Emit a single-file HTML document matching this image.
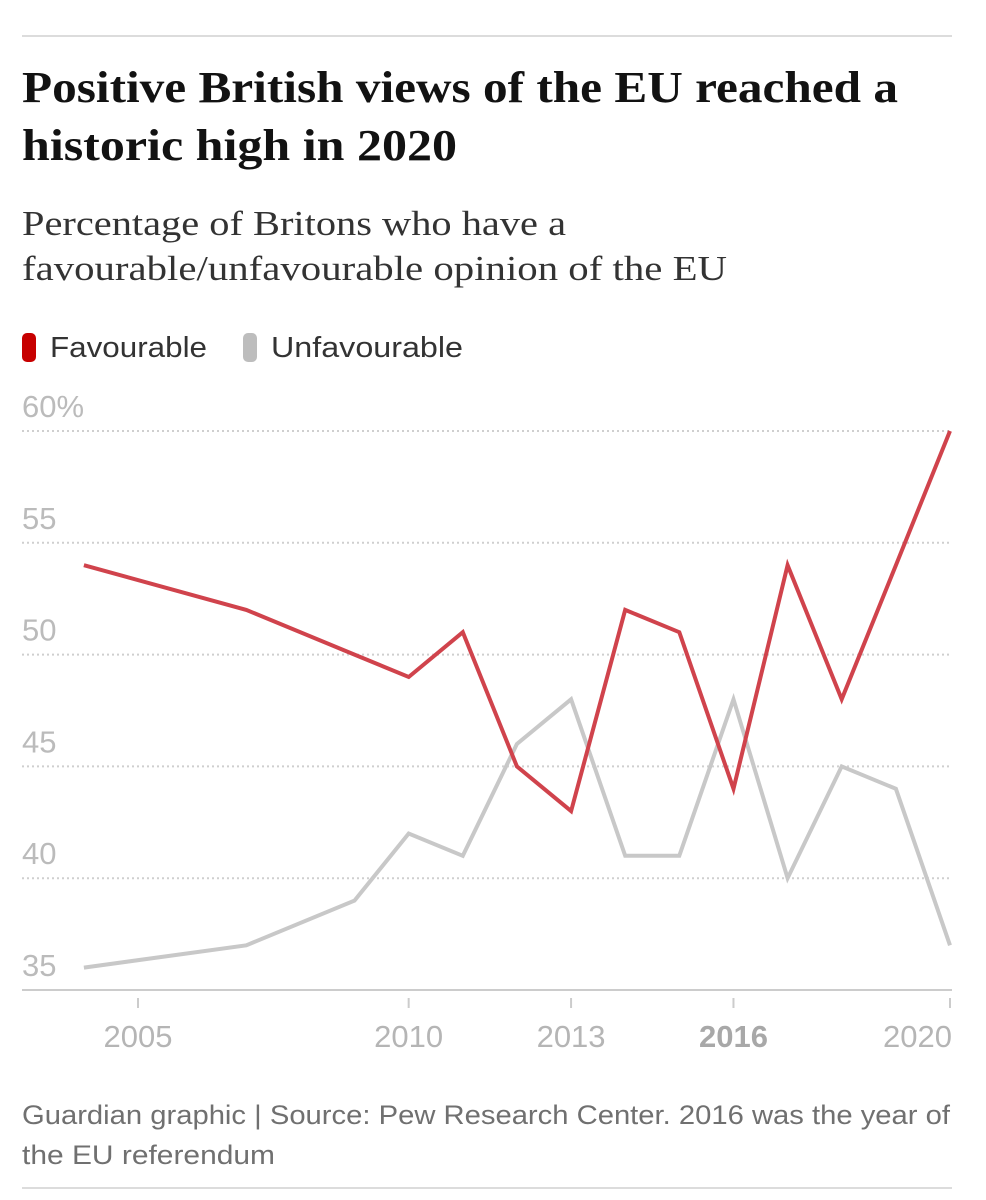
<!DOCTYPE html>
<html><head><meta charset="utf-8">
<style>
html,body{margin:0;padding:0;background:#fff;width:986px;height:1200px;overflow:hidden}
svg{display:block}
</style></head>
<body>
<svg width="986" height="1200" viewBox="0 0 986 1200">
<line x1="22" y1="36" x2="952" y2="36" stroke="#dcdcdc" stroke-width="2"/>
<text font-family="Liberation Serif, serif" font-weight="bold" font-size="44" fill="#121212"><tspan x="22" y="102" textLength="876" lengthAdjust="spacingAndGlyphs">Positive British views of the EU reached a</tspan><tspan x="22" y="160" textLength="435" lengthAdjust="spacingAndGlyphs">historic high in 2020</tspan></text>
<text font-family="Liberation Serif, serif" font-size="35" fill="#333"><tspan x="22" y="235" textLength="544" lengthAdjust="spacingAndGlyphs">Percentage of Britons who have a</tspan><tspan x="22" y="280" textLength="705" lengthAdjust="spacingAndGlyphs">favourable/unfavourable opinion of the EU</tspan></text>
<g>
<rect x="22" y="333" width="14" height="29" rx="5" fill="#c70000"/>
<text x="50" y="357" font-family="Liberation Sans, sans-serif" font-size="29" fill="#333" textLength="157" lengthAdjust="spacingAndGlyphs">Favourable</text>
<rect x="243" y="333" width="14" height="29" rx="5" fill="#bdbdbd"/>
<text x="271" y="357" font-family="Liberation Sans, sans-serif" font-size="29" fill="#333" textLength="192" lengthAdjust="spacingAndGlyphs">Unfavourable</text>
</g>
<g id="plot"></g>
<text font-family="Liberation Sans, sans-serif" font-size="27" fill="#707070"><tspan x="22" y="1124" textLength="928" lengthAdjust="spacingAndGlyphs">Guardian graphic | Source: Pew Research Center. 2016 was the year of</tspan><tspan x="22" y="1164" textLength="253" lengthAdjust="spacingAndGlyphs">the EU referendum</tspan></text>
<line x1="22" y1="1188" x2="952" y2="1188" stroke="#dcdcdc" stroke-width="2"/>
</svg>
<script>
const yearsFav = [2004, 2007, 2009, 2010, 2011, 2012, 2013, 2014, 2015, 2016, 2017, 2018, 2019, 2020];
const valuesFav = [54, 52, 50, 49, 51, 45, 43, 52, 51, 44, 54, 48, 54, 60];
const yearsUnfav = [2004, 2007, 2009, 2010, 2011, 2012, 2013, 2014, 2015, 2016, 2017, 2018, 2019, 2020];
const valuesUnfav = [36, 37, 39, 42, 41, 46, 48, 41, 41, 48, 40, 45, 44, 37];
const yTicks = [60, 55, 50, 45, 40, 35];
const yTickLabels = ["60%", "55", "50", "45", "40", "35"];
const xTicks = [2005, 2010, 2013, 2016, 2020];
const xTickLabels = ["2005", "2010", "2013", "2016", "2020"];

const NS = "http://www.w3.org/2000/svg";
const plot = document.getElementById("plot");
function xs(y){ return 138 + (y - 2005) * (950 - 138) / 15; }
function ys(v){ return 431 + (60 - v) * (990 - 431) / 25; }
function mk(tag, attrs){ const e = document.createElementNS(NS, tag); for (const k in attrs) e.setAttribute(k, attrs[k]); plot.appendChild(e); return e; }

yTicks.forEach((t, i) => {
  if (t !== 35) {
    const g = mk("line", {x1: 22, x2: 950, y1: ys(t), y2: ys(t), stroke: "#cfcfcf", "stroke-width": 2, "stroke-dasharray": "2,3"});
    
    
  }
  const tx = mk("text", {x: 22, y: ys(t) - 14, "font-family": "Liberation Sans, sans-serif", "font-size": 31, fill: "#bbb"});
  tx.textContent = yTickLabels[i];
  
  
});
const ax = mk("line", {x1: 22, x2: 952, y1: 990, y2: 990, stroke: "#ccc", "stroke-width": 2});


xTicks.forEach((t, i) => {
  const tk = mk("line", {x1: xs(t), x2: xs(t), y1: 998, y2: 1008, stroke: "#ccc", "stroke-width": 2});
  
  
  const anchor = i === xTicks.length - 1 ? "end" : "middle";
  const tx = mk("text", {x: i === xTicks.length - 1 ? 952 : xs(t), y: 1047, "text-anchor": anchor, "font-family": "Liberation Sans, sans-serif", "font-size": 31, fill: t === 2016 ? "#a8a8a8" : "#b5b5b5", "font-weight": t === 2016 ? "bold" : "normal"});
  tx.textContent = xTickLabels[i];
  
  
});
function line(years, vals, color, name){
  const d = years.map((y, i) => (i ? "L" : "M") + xs(y).toFixed(1) + "," + ys(vals[i]).toFixed(1)).join("");
  const p = mk("path", {d: d, fill: "none", stroke: color, "stroke-width": 4, "stroke-linejoin": "miter"});
  
  
}
line(yearsUnfav, valuesUnfav, "#c8c8c8", "unfavourable-line");
line(yearsFav, valuesFav, "#d0434c", "favourable-line");
</script>
</body></html>
